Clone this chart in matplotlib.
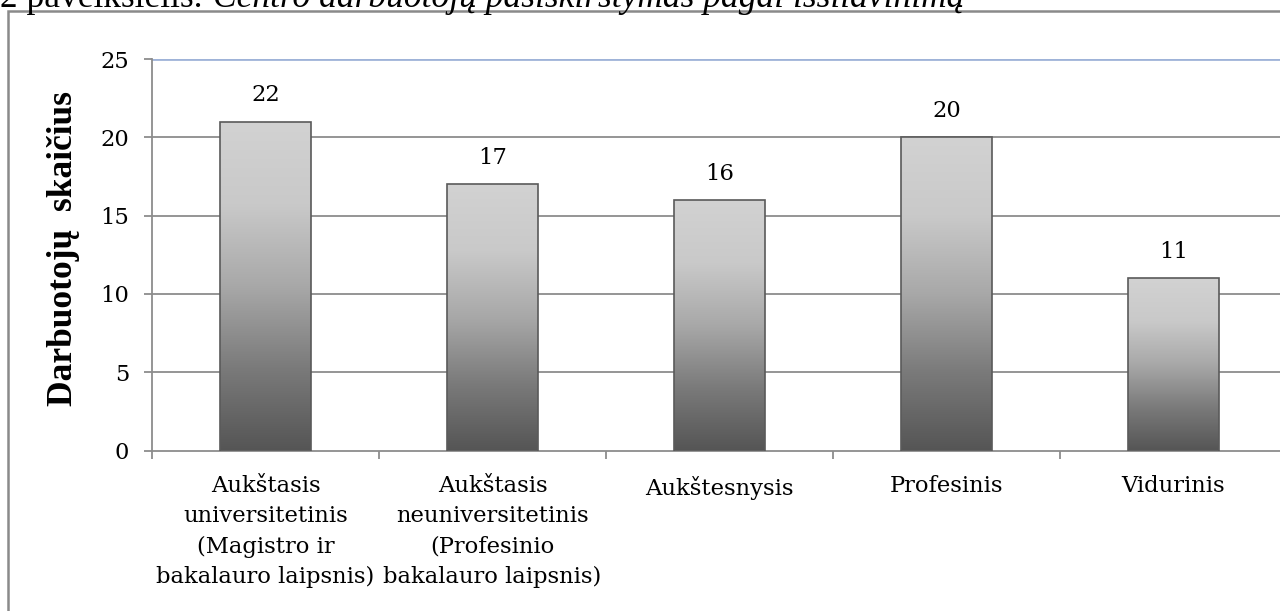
import matplotlib
matplotlib.use("Agg")
import matplotlib.pyplot as plt
import numpy as np
from matplotlib.patches import Rectangle
from matplotlib.colors import LinearSegmentedColormap

categories = ["Aukštasis\nuniversitetinis\n(Magistro ir\nbakalauro laipsnis)",
              "Aukštasis\nneuniversitetinis\n(Profesinio\nbakalauro laipsnis)",
              "Aukštesnysis", "Profesinis", "Vidurinis"]
heights = [21, 17, 16, 20, 11]
value_labels = ["22", "17", "16", "20", "11"]
yticks = [0, 5, 10, 15, 20, 25]

plt.rcParams['font.family'] = ['DejaVu Serif']
TF = 16.3

fig = plt.figure(figsize=(12.8, 6.11), dpi=100)
W, H = 1280, 611
ax = fig.add_axes([152 / W, 1 - 450.5 / H, (1287 - 152) / W, (450.5 - 59) / H])

# outer frame
fig.patches.append(Rectangle((8 / W, -0.05), 1.2, 1 - 11 / H + 0.05, transform=fig.transFigure,
                             fill=False, edgecolor='#8a8a8a', linewidth=1.8))
# caption (cut at top)
fig.text(0, 1 - 7 / H, "2 paveikslėlis. ", fontsize=25.5, ha='left', va='baseline',
         family=['Liberation Serif'])
fig.text(213 / W, 1 - 7 / H, "Centro darbuotojų pasiskirstymas pagal išsilavinimą",
         fontsize=25.5, ha='left', va='baseline', style='italic', family=['Liberation Serif'])

x = np.arange(len(categories))
bars = ax.bar(x, heights, width=0.4, color='none', edgecolor='#5a5a5a', linewidth=1.2, zorder=3)

cmap = LinearSegmentedColormap.from_list('g', ['#555555', '#7a7a7a', '#a8a8a8', '#c9c9c9', '#d2d2d2'])
grad = np.linspace(0, 1, 256).reshape(-1, 1)
for b in bars:
    bx, by, bw, bh = b.get_x(), b.get_y(), b.get_width(), b.get_height()
    ax.imshow(grad, extent=[bx, bx + bw, by, by + bh], origin='lower', cmap=cmap,
              aspect='auto', zorder=2, interpolation='bilinear')

for xi, h, lab in zip(x, heights, value_labels):
    ax.annotate(lab, (xi, h), xytext=(0, 11), textcoords='offset points',
                ha='center', va='bottom', fontsize=TF)

ax.set_xlim(-0.5, len(categories) - 0.5)
ax.set_ylim(0, 25)
ax.set_yticks(yticks)
ax.set_yticklabels([str(t) for t in yticks], fontsize=TF)
for t in yticks[1:-1]:
    ax.axhline(t, color='#8c8c8c', linewidth=1.3, zorder=1)
ax.axhline(25, color='#9fb3d8', linewidth=2, zorder=1)

ax.set_xticks(x)
ax.set_xticklabels(categories, fontsize=TF, linespacing=1.47)
ax.tick_params(axis='x', which='major', length=0, pad=18)
ax.set_xticks(np.arange(-0.5, len(categories), 1), minor=True)
ax.tick_params(axis='x', which='minor', length=6, color='#8c8c8c', width=1.3, direction='out')
ax.tick_params(axis='y', length=6, color='#8c8c8c', width=1.3, pad=10.5)

for s in ['top', 'right']:
    ax.spines[s].set_visible(False)
ax.spines['left'].set_color('#8c8c8c')
ax.spines['left'].set_linewidth(1.3)
ax.spines['bottom'].set_color('#8c8c8c')
ax.spines['bottom'].set_linewidth(1.3)

fig.text(64 / W, 1 - 248 / H, "Darbuotojų  skaičius", rotation=90, fontsize=25.5,
         fontweight='bold', ha='center', va='center', family=['Liberation Serif'])

fig.savefig("out.png", dpi=100)
